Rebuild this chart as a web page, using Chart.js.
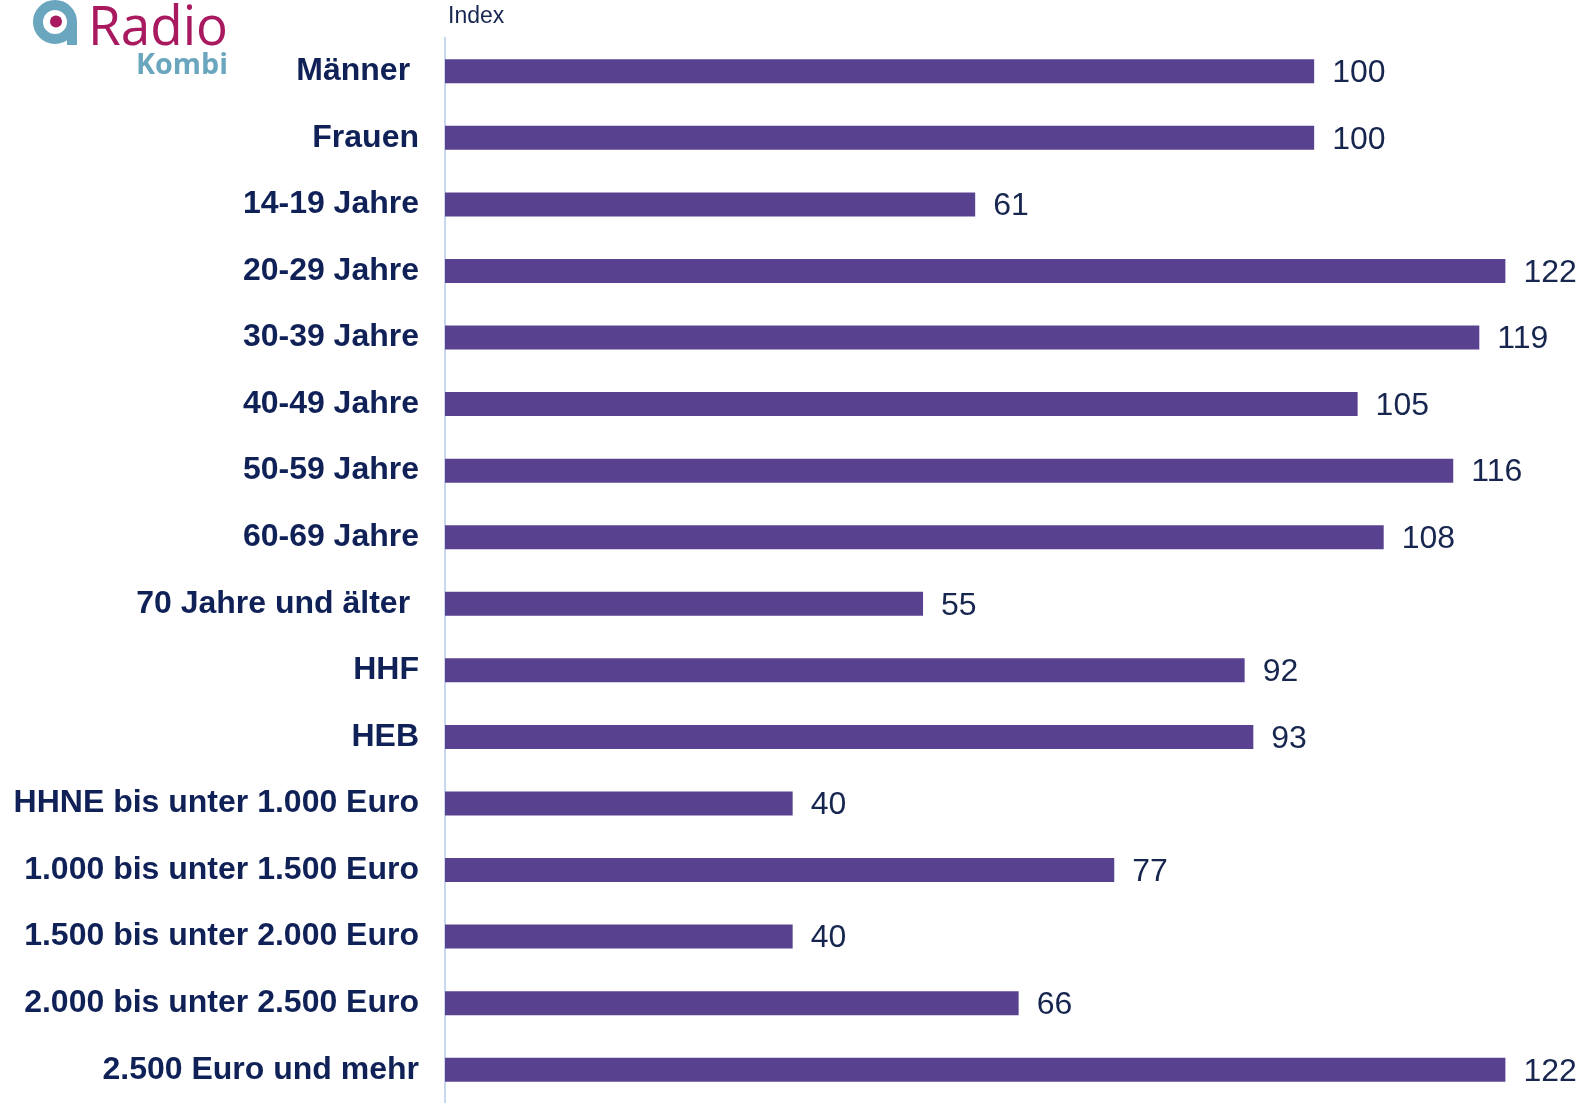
<!DOCTYPE html>
<html>
<head>
<meta charset="utf-8">
<script src="https://cdn.jsdelivr.net/npm/chart.js@4"></script>
<style>
  html, body { margin: 0; padding: 0; background: #fff; }
  canvas { display: block; }
</style>
</head>
<body>
<canvas id="chart" width="1581" height="1103"></canvas>
<script>
'use strict';

const categories = [
    'Männer ', 'Frauen', '14-19 Jahre', '20-29 Jahre', '30-39 Jahre', '40-49 Jahre',
    '50-59 Jahre', '60-69 Jahre', '70 Jahre und älter ', 'HHF', 'HEB',
    'HHNE bis unter 1.000 Euro', '1.000 bis unter 1.500 Euro',
    '1.500 bis unter 2.000 Euro', '2.000 bis unter 2.500 Euro', '2.500 Euro und mehr'
];
const indexValues = [100, 100, 61, 122, 119, 105, 116, 108, 55, 92, 93, 40, 77, 40, 66, 122];
const axisTitle = 'Index';

const BAR_COLOR = '#584290';
const TEXT_COLOR = '#0f2157';
const FONT = '"Liberation Sans", Arial, sans-serif';

// Werte rechts neben den Balken
const valueLabels = {
    id: 'valueLabels',
    afterDatasetsDraw(chart) {
        const ctx = chart.ctx;
        const meta = chart.getDatasetMeta(0);
        ctx.save();
        ctx.font = '32px ' + FONT;
        ctx.fillStyle = '#17264f';
        ctx.textAlign = 'left';
        ctx.textBaseline = 'middle';
        meta.data.forEach((bar, i) => {
            ctx.fillText(String(indexValues[i]), bar.x + 18, bar.y + 2);
        });
        ctx.restore();
    }
};

// Logo + "Index" oben
const decor = {
    id: 'decor',
    afterDraw(chart) {
        const ctx = chart.ctx;
        ctx.save();

        ctx.font = '23px ' + FONT;
        ctx.fillStyle = '#17264f';
        ctx.textBaseline = 'middle';
        ctx.textAlign = 'left';
        ctx.fillText(axisTitle, 448, 17);

        // Icon
        ctx.strokeStyle = '#6ba6bf';
        ctx.lineWidth = 10;
        ctx.beginPath();
        ctx.arc(55, 22, 17, 0, Math.PI * 2);
        ctx.stroke();
        ctx.fillStyle = '#6ba6bf';
        ctx.fillRect(67, 22, 10, 23);
        ctx.fillStyle = '#a8195f';
        ctx.beginPath();
        ctx.arc(56, 21.5, 6, 0, Math.PI * 2);
        ctx.fill();

        ctx.textBaseline = 'alphabetic';
        ctx.fillStyle = '#a8195f';
        ctx.font = '54px "Open Sans", sans-serif';
        ctx.fillText('Radio', 88, 45, 140);
        ctx.fillStyle = '#6ba6bf';
        ctx.font = 'bold 29px "Open Sans", sans-serif';
        ctx.fillText('Kombi', 136, 74, 92);

        ctx.restore();
    }
};

new Chart(document.getElementById('chart'), {
    type: 'bar',
    data: {
        labels: categories,
        datasets: [{
            data: indexValues,
            backgroundColor: BAR_COLOR,
            borderWidth: 0,
            barPercentage: 0.6,
            categoryPercentage: 0.6
        }]
    },
    options: {
        indexAxis: 'y',
        responsive: false,
        animation: false,
        devicePixelRatio: 1,
        layout: { padding: { top: 38, right: 0, bottom: 0, left: 0 } },
        plugins: {
            legend: { display: false },
            tooltip: { enabled: false }
        },
        scales: {
            x: { display: false, min: 0, max: 130.7 },
            y: {
                grid: { display: false, drawTicks: false },
                border: { display: true, color: '#c8d8f0', width: 2 },
                ticks: {
                    color: TEXT_COLOR,
                    padding: 26,
                    font: { family: FONT, size: 32, weight: 'bold' }
                },
                afterFit: scale => {
                    scale.width = 445;
                    scale.paddingTop = 0;
                    scale.paddingBottom = 0;
                }
            }
        }
    },
    plugins: [valueLabels, decor]
});
</script>
</body>
</html>
